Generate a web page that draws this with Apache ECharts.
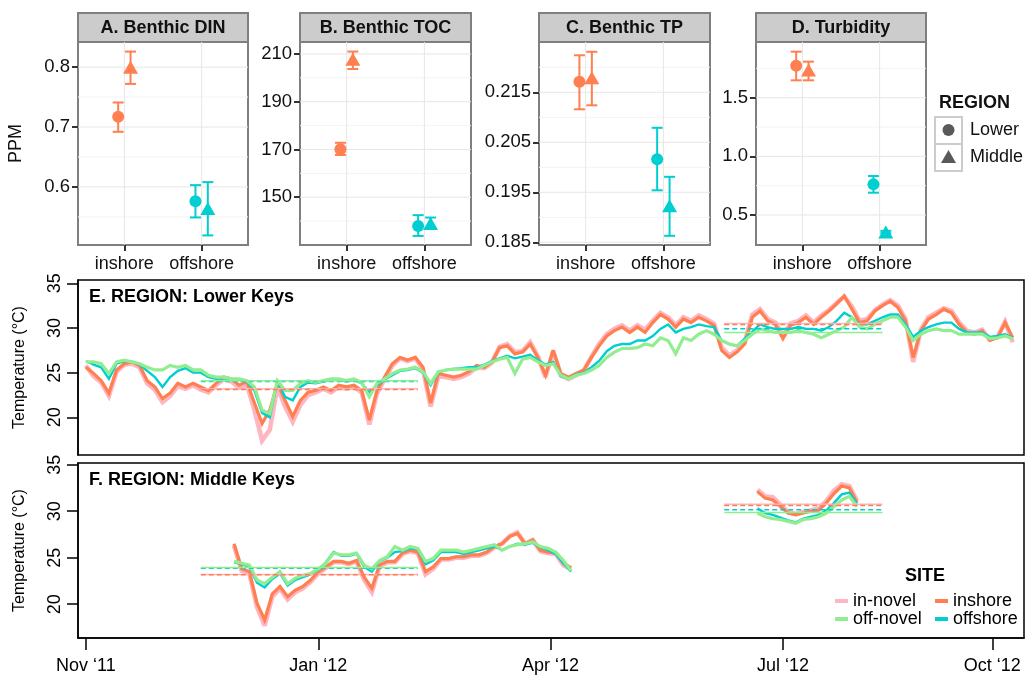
<!DOCTYPE html>
<html><head><meta charset="utf-8">
<script src="https://cdn.jsdelivr.net/npm/echarts@6/dist/echarts.min.js"></script>
<style>html,body{margin:0;padding:0;background:#fff}#c{width:1029px;height:677px}</style>
</head><body><div id="c"></div>
<script>
// ================= DATA =================
const categories = ['inshore', 'offshore'];
const regions = ['Lower', 'Middle'];
const panelTitles = ['A. Benthic DIN', 'B. Benthic TOC', 'C. Benthic TP', 'D. Turbidity'];

// mean / low / high, per category (inshore, offshore)
const dinLowerMean = [0.717, 0.576], dinLowerLo = [0.692, 0.549], dinLowerHi = [0.741, 0.603];
const dinMiddleMean = [0.800, 0.564], dinMiddleLo = [0.772, 0.519], dinMiddleHi = [0.826, 0.608];
const tocLowerMean = [170.1, 138.0], tocLowerLo = [167.7, 133.8], tocLowerHi = [172.8, 142.5];
const tocMiddleMean = [207.8, 139.0], tocMiddleLo = [203.7, 136.8], tocMiddleHi = [211.0, 141.5];
const tpLowerMean = [0.2171, 0.2016], tpLowerLo = [0.2116, 0.1954], tpLowerHi = [0.2224, 0.2079];
const tpMiddleMean = [0.2179, 0.1923], tpMiddleLo = [0.2124, 0.1863], tpMiddleHi = [0.2231, 0.1981];
const turbLowerMean = [1.772, 0.761], turbLowerLo = [1.648, 0.690], turbLowerHi = [1.892, 0.832];
const turbMiddleMean = [1.736, 0.355], turbMiddleLo = [1.648, 0.345], turbMiddleHi = [1.807, 0.365];

const dinTicks = [0.6, 0.7, 0.8], dinMinor = [0.55, 0.65, 0.75];
const tocTicks = [150, 170, 190, 210], tocMinor = [140, 160, 180, 200];
const tpTicks = [0.185, 0.195, 0.205, 0.215], tpMinor = [0.19, 0.2, 0.21, 0.22];
const turbTicks = [0.5, 1.0, 1.5], turbMinor = [0.75, 1.25, 1.75];

// Temperature time series: days since 1 Nov 2011 (axis units), sampled every 3 days
const STEP = 3;
const E_START = 0;
const E_IN_NOVEL = [25.8,24.6,23.9,22.4,25.1,25.9,26.0,25.6,23.8,23.1,
21.7,22.4,23.5,23.2,23.6,23.1,22.8,23.6,24.3,24.0,
23.3,23.7,20.8,17.4,18.6,23.4,21.2,19.5,21.4,22.5,
22.8,23.2,22.8,23.4,23.2,23.4,22.8,19.2,22.7,24.3,
25.8,26.6,26.3,26.6,25.4,21.2,24.6,24.5,24.3,24.5,
24.9,25.6,25.5,26.1,27.9,28.2,27.3,27.4,28.4,26.8,
24.5,27.4,24.7,24.3,24.7,25.2,26.8,28.2,29.3,29.9,
30.3,29.7,30.3,29.8,30.8,31.7,31.2,30.3,31.2,30.8,
31.4,31.0,30.5,27.8,26.9,27.5,28.4,31.5,32.1,31.0,
30.6,29.1,30.5,30.8,31.4,30.6,31.4,32.0,32.8,33.5,
32.4,30.8,31.0,32.0,32.6,33.1,32.5,31.0,26.2,29.8,
31.2,31.7,32.2,31.9,30.6,29.7,29.5,29.8,28.7,29.0,
30.7,28.4];
const E_INSHORE = [25.6,24.9,24.1,22.7,25.3,26.0,26.2,25.8,24.1,23.4,
22.1,22.7,23.8,23.4,23.8,23.4,23.0,23.8,24.5,24.3,
23.6,24.0,21.6,19.3,20.8,23.8,21.9,20.1,21.9,22.8,
23.0,23.4,23.0,23.6,23.4,23.6,23.0,19.7,23.0,24.5,
26.0,26.7,26.4,26.7,25.6,21.6,24.9,24.7,24.5,24.7,
25.1,25.8,25.6,26.2,27.8,28.0,27.1,27.3,28.2,26.7,
24.7,27.5,24.9,24.5,24.9,25.3,26.7,28.0,29.1,29.7,
30.1,29.5,30.1,29.5,30.6,31.5,31.0,30.1,31.0,30.6,
31.2,30.8,30.3,27.5,26.7,27.3,28.2,31.2,31.9,30.8,
30.4,28.8,30.3,30.6,31.2,30.4,31.2,31.9,32.7,33.6,
32.1,30.6,30.8,31.9,32.5,33.0,32.3,30.8,26.7,29.7,
31.0,31.5,32.1,31.7,30.4,29.5,29.3,29.7,28.6,28.9,
30.6,28.9];
const E_OFFSHORE = [26.3,25.9,25.6,24.3,26.0,26.3,26.2,25.9,25.2,24.5,
23.4,24.5,25.2,25.5,25.0,25.0,24.5,24.3,24.4,24.2,
24.2,24.0,23.0,20.5,20.0,24.0,22.3,21.9,23.4,23.9,
23.8,24.0,24.2,24.2,24.0,24.2,23.8,22.8,23.6,24.2,
24.7,25.2,25.3,25.5,25.0,23.6,25.0,25.3,25.4,25.5,
25.6,25.6,25.9,26.3,26.6,26.9,26.6,26.8,27.0,26.4,
25.9,26.2,24.6,24.3,24.8,25.0,25.6,26.3,27.4,28.0,
28.2,28.2,28.6,28.6,29.1,29.9,30.4,29.5,29.9,30.1,
30.4,30.2,30.1,28.6,28.2,28.0,28.8,29.6,30.4,30.1,
29.9,29.9,29.9,30.1,29.9,29.9,29.7,30.1,30.8,31.7,
31.2,30.4,30.4,30.8,31.2,31.5,31.5,30.4,29.0,29.7,
30.1,30.4,30.6,30.6,29.9,29.5,29.5,29.5,29.0,29.1,
29.3,28.9];
const E_OFF_NOVEL = [26.2,26.2,26.0,24.9,26.2,26.4,26.2,26.0,25.6,25.3,
25.3,25.8,25.6,25.8,25.3,25.3,24.7,24.5,24.5,24.3,
24.3,24.1,23.4,20.8,20.4,24.1,23.0,23.0,23.8,24.1,
23.9,24.1,24.3,24.3,24.1,24.3,23.9,22.3,23.8,24.3,
24.9,25.3,25.4,25.6,25.1,23.8,25.1,25.3,25.4,25.4,
25.4,25.4,25.8,26.2,26.5,26.7,24.9,26.5,26.7,26.2,
25.8,26.0,24.7,24.3,24.7,24.9,25.3,25.8,26.7,27.3,
27.7,27.7,27.8,28.2,28.0,28.9,28.6,27.1,28.9,28.6,
29.3,29.7,29.3,28.6,28.2,28.0,28.6,29.3,29.9,29.7,
29.5,29.5,29.5,29.7,29.5,29.3,28.9,29.3,29.7,30.1,
31.2,30.1,29.9,30.4,30.8,31.2,31.2,30.1,28.6,29.3,
29.7,29.9,29.7,29.7,29.3,29.3,29.3,29.3,28.8,28.9,
29.1,28.8];

const F1_START = 58;
const F1_IN_NOVEL = [26.3,23.6,23.3,19.7,17.7,20.8,21.7,20.5,21.3,21.7,
22.4,23.3,23.9,24.5,24.5,24.3,24.6,22.6,21.3,24.1,
24.5,24.5,25.4,25.7,25.5,23.2,23.8,24.8,24.8,25.0,
25.0,25.2,25.2,25.5,26.1,26.5,27.3,27.7,26.5,26.9,
25.7,25.5,25.4,24.2,23.8];
const F1_INSHORE = [26.5,23.8,23.5,20.1,18.3,21.1,21.9,20.8,21.5,21.9,
22.6,23.5,24.0,24.6,24.6,24.4,24.7,22.9,21.7,24.2,
24.6,24.6,25.5,25.8,25.6,23.5,24.0,24.9,24.9,25.1,
25.1,25.3,25.3,25.6,26.2,26.5,27.3,27.6,26.5,26.9,
25.8,25.6,25.5,24.4,23.9];
const F1_OFFSHORE = [24.5,24.3,24.0,22.3,21.8,22.7,23.3,22.0,22.6,22.9,
23.2,23.7,24.5,25.6,25.2,25.2,25.4,24.0,23.5,24.6,
25.0,25.6,25.7,26.0,25.9,24.3,24.7,25.6,25.6,25.6,
25.4,25.6,25.8,26.0,26.2,25.8,26.2,26.5,26.4,26.6,
26.1,25.8,25.4,24.4,23.5];
const F1_OFF_NOVEL = [24.6,24.4,24.2,22.6,22.2,22.9,23.5,22.2,22.8,23.1,
23.3,23.8,24.4,25.5,25.3,25.3,25.5,24.2,23.8,24.7,
25.1,26.2,25.8,26.2,26.0,24.6,24.9,25.8,25.8,25.8,
25.6,25.8,26.0,26.2,26.4,25.8,26.2,26.4,26.5,26.7,
26.2,26.0,25.6,24.7,23.6];

const F2_START = 263;
const F2_IN_NOVEL = [32.3,31.6,31.5,30.7,29.9,29.7,29.9,30.1,30.3,31.1,32.2,32.9,32.7,31.1];
const F2_INSHORE = [32.1,31.4,31.2,30.5,29.8,29.6,29.8,30.0,30.1,30.9,31.9,32.7,32.5,30.9];
const F2_OFFSHORE = [30.3,29.8,29.6,29.3,29.0,28.8,29.2,29.4,29.6,30.1,30.9,31.8,32.0,30.8];
const F2_OFF_NOVEL = [29.8,29.4,29.2,29.1,28.9,28.7,29.1,29.2,29.4,29.8,30.5,31.2,31.6,30.5];

// period means (two sampling periods)
const MEAN_PERIODS = [[45, 130], [250, 312]];
const E_MEAN_IN_NOVEL = [23.2, 30.5], E_MEAN_INSHORE = [23.1, 30.4];
const E_MEAN_OFF_NOVEL = [24.1, 29.5], E_MEAN_OFFSHORE = [24.0, 29.9];
const F_MEAN_IN_NOVEL = [23.2, 30.75], F_MEAN_INSHORE = [23.15, 30.6];
const F_MEAN_OFF_NOVEL = [23.95, 29.85], F_MEAN_OFFSHORE = [23.85, 30.15];

const TICK_DAYS = [0, 91, 182, 273, 355];
const TICK_LABELS = ['Nov \u201811', 'Jan \u201812', 'Apr \u201812', 'Jul \u201812', 'Oct \u201812'];
const TEMP_TICKS = [20, 25, 30, 35];
const SITES = ['in-novel', 'inshore', 'offshore', 'off-novel'];

// ================= STYLE / LAYOUT =================
const FONT = 'Liberation Sans, Arial, Helvetica, sans-serif';
const SITE_COLORS = {'in-novel': '#FFB6C1', 'inshore': '#FF7F50', 'off-novel': '#90EE90', 'offshore': '#00CED1'};
const SITE_WIDTHS = {'in-novel': 4.6, 'inshore': 3.2, 'off-novel': 3.2, 'offshore': 2.4};
const CAT_COLORS = ['#FF7F50', '#00CED1'];
const DODGE = 0.08;
const TOP_Y = 42, TOP_H = 203;

const topPanels = [
  {left: 78, width: 170, ymin: 0.503, ymax: 0.842, ticks: dinTicks, minor: dinMinor, dec: 1,
   lower: [dinLowerMean, dinLowerLo, dinLowerHi], middle: [dinMiddleMean, dinMiddleLo, dinMiddleHi]},
  {left: 300, width: 171, ymin: 130, ymax: 215, ticks: tocTicks, minor: tocMinor, dec: 0,
   lower: [tocLowerMean, tocLowerLo, tocLowerHi], middle: [tocMiddleMean, tocMiddleLo, tocMiddleHi]},
  {left: 539, width: 171, ymin: 0.18446, ymax: 0.22506, ticks: tpTicks, minor: tpMinor, dec: 3,
   lower: [tpLowerMean, tpLowerLo, tpLowerHi], middle: [tpMiddleMean, tpMiddleLo, tpMiddleHi]},
  {left: 756, width: 170, ymin: 0.2442, ymax: 1.9745, ticks: turbTicks, minor: turbMinor, dec: 1,
   lower: [turbLowerMean, turbLowerLo, turbLowerHi], middle: [turbMiddleMean, turbMiddleLo, turbMiddleHi]}
];

const grids = [], xAxes = [], yAxes = [], series = [], graphics = [];

topPanels.forEach((p, i) => {
  grids.push({left: p.left, top: TOP_Y, width: p.width, height: TOP_H, show: true,
    borderColor: '#7f7f7f', borderWidth: 2, backgroundColor: '#fff'});
  xAxes.push({gridIndex: i, type: 'value', min: 0.4, max: 2.6,
    axisLine: {show: false}, splitLine: {show: false},
    axisTick: {show: true, customValues: [1, 2], length: 6, lineStyle: {color: '#333', width: 2}},
    axisLabel: {customValues: [1, 2], formatter: v => categories[Math.round(v) - 1],
      fontFamily: FONT, fontSize: 18, color: '#111', margin: 10}});
  yAxes.push({gridIndex: i, type: 'value', min: p.ymin, max: p.ymax,
    axisLine: {show: false}, splitLine: {show: false},
    axisTick: {show: true, customValues: p.ticks, length: 6, lineStyle: {color: '#333', width: 2}},
    axisLabel: {customValues: p.ticks, formatter: v => v.toFixed(p.dec),
      fontFamily: FONT, fontSize: 18.5, color: '#111', margin: 8},
    name: i === 0 ? 'PPM' : '', nameLocation: 'middle', nameGap: 53, nameRotate: 90,
    nameTextStyle: {fontFamily: FONT, fontSize: 18, color: '#111'}});
  // background grid lines
  const gl = [];
  p.ticks.forEach(v => gl.push([v, 0]));
  p.minor.forEach(v => gl.push([v, 1]));
  [1, 2].forEach(v => gl.push([v, 2]));
  series.push({type: 'custom', xAxisIndex: i, yAxisIndex: i, z: 0, silent: true, data: gl,
    renderItem: (params, api) => {
      const v = api.value(0), k = api.value(1);
      let a, b;
      if (k === 2) { a = api.coord([v, p.ymin]); b = api.coord([v, p.ymax]); }
      else { a = api.coord([0.4, v]); b = api.coord([2.6, v]); }
      return {type: 'line', shape: {x1: a[0], y1: a[1], x2: b[0], y2: b[1]},
        style: {stroke: k === 1 ? '#f3f3f3' : '#e6e6e6', lineWidth: 1}};
    }});
  // error bars + points
  [['Lower', p.lower, -DODGE, 'circle', 12], ['Middle', p.middle, DODGE, 'triangle', [15, 13]]].forEach(r => {
    const [name, arr, off, sym, size] = r;
    const eb = categories.map((c, j) => [j + 1 + off, arr[1][j], arr[2][j], j]);
    series.push({type: 'custom', name: name + ' err', xAxisIndex: i, yAxisIndex: i, z: 2, silent: true, data: eb,
      renderItem: (params, api) => {
        const x = api.value(0), lo = api.value(1), hi = api.value(2), j = api.value(3);
        const a = api.coord([x, lo]), b = api.coord([x, hi]);
        const col = CAT_COLORS[j], w = 5.5;
        const st = {stroke: col, lineWidth: 2};
        return {type: 'group', children: [
          {type: 'line', shape: {x1: a[0], y1: a[1], x2: b[0], y2: b[1]}, style: st},
          {type: 'line', shape: {x1: a[0] - w, y1: a[1], x2: a[0] + w, y2: a[1]}, style: st},
          {type: 'line', shape: {x1: b[0] - w, y1: b[1], x2: b[0] + w, y2: b[1]}, style: st}]};
      }});
    series.push({type: 'scatter', name: name, xAxisIndex: i, yAxisIndex: i, z: 3, symbol: sym, symbolSize: size,
      data: categories.map((c, j) => ({value: [j + 1 + off, arr[0][j]], itemStyle: {color: CAT_COLORS[j], opacity: 1}}))});
  });
  // strip header
  graphics.push({type: 'rect', shape: {x: p.left, y: 13, width: p.width, height: 29},
    style: {fill: '#cccccc', stroke: '#7f7f7f', lineWidth: 2}});
  graphics.push({type: 'text', style: {text: panelTitles[i], x: p.left + p.width / 2, y: 28,
    textAlign: 'center', textVerticalAlign: 'middle', font: 'bold 18px ' + FONT, fill: '#111'}});
});

// ---- time series panels ----
const X_MIN = -3.1, X_MAX = 367.4;
const lowPanels = [
  {top: 280, height: 175, ymin: 15.78, ymax: 35.37, title: 'E. REGION: Lower Keys',
   segs: [[E_START, {'in-novel': E_IN_NOVEL, 'inshore': E_INSHORE, 'offshore': E_OFFSHORE, 'off-novel': E_OFF_NOVEL}]],
   means: {'in-novel': E_MEAN_IN_NOVEL, 'inshore': E_MEAN_INSHORE, 'offshore': E_MEAN_OFFSHORE, 'off-novel': E_MEAN_OFF_NOVEL}},
  {top: 463, height: 175, ymin: 16.36, ymax: 35.18, title: 'F. REGION: Middle Keys',
   segs: [[F1_START, {'in-novel': F1_IN_NOVEL, 'inshore': F1_INSHORE, 'offshore': F1_OFFSHORE, 'off-novel': F1_OFF_NOVEL}],
          [F2_START, {'in-novel': F2_IN_NOVEL, 'inshore': F2_INSHORE, 'offshore': F2_OFFSHORE, 'off-novel': F2_OFF_NOVEL}]],
   means: {'in-novel': F_MEAN_IN_NOVEL, 'inshore': F_MEAN_INSHORE, 'offshore': F_MEAN_OFFSHORE, 'off-novel': F_MEAN_OFF_NOVEL}}
];

lowPanels.forEach((p, k) => {
  const gi = 4 + k;
  const isBottom = k === 1;
  grids.push({left: 78, top: p.top, width: 946, height: p.height, show: true,
    borderColor: '#000', borderWidth: 1.5, backgroundColor: '#fff'});
  xAxes.push({gridIndex: gi, type: 'value', min: X_MIN, max: X_MAX, show: isBottom,
    axisLine: {show: true, onZero: false, lineStyle: {color: '#000', width: 1.5}}, splitLine: {show: false},
    axisTick: {show: true, customValues: TICK_DAYS, length: 12, lineStyle: {color: '#000', width: 1.5}},
    axisLabel: {customValues: TICK_DAYS, formatter: v => TICK_LABELS[TICK_DAYS.indexOf(v)],
      fontFamily: FONT, fontSize: 18, color: '#000', margin: 19}});
  yAxes.push({gridIndex: gi, type: 'value', min: p.ymin, max: p.ymax,
    axisLine: {show: true, onZero: false, lineStyle: {color: '#000', width: 1.5}}, splitLine: {show: false},
    axisTick: {show: true, customValues: TEMP_TICKS, length: 11, lineStyle: {color: '#000', width: 1.5}},
    axisLabel: {customValues: TEMP_TICKS, rotate: 90, fontFamily: FONT, fontSize: 18, color: '#000', margin: 14},
    name: 'Temperature (\u00B0C)', nameLocation: 'middle', nameGap: 50, nameRotate: 90,
    nameTextStyle: {fontFamily: FONT, fontSize: 16, color: '#000'}});
  SITES.forEach((s, si) => {
    p.segs.forEach(seg => {
      const [start, obj] = seg;
      series.push({type: 'line', name: s, xAxisIndex: gi, yAxisIndex: gi, z: 2 + si * 0.1,
        showSymbol: false, symbol: 'none', silent: true, color: SITE_COLORS[s],
        lineStyle: {color: SITE_COLORS[s], width: SITE_WIDTHS[s], join: 'miter', miterLimit: 3},
        itemStyle: {color: SITE_COLORS[s]},
        data: obj[s].map((v, i) => [start + i * STEP, v])});
    });
  });
  SITES.forEach(s => {
    const novel = s.indexOf('novel') >= 0;
    MEAN_PERIODS.forEach((per, pi) => {
      series.push({type: 'line', name: s + ' mean', xAxisIndex: gi, yAxisIndex: gi, z: 4,
        showSymbol: false, symbol: 'none', silent: true,
        lineStyle: {color: SITE_COLORS[s], width: 1.5, type: novel ? 'solid' : [5, 3]},
        data: [[per[0], p.means[s][pi]], [per[1], p.means[s][pi]]]});
    });
  });
  graphics.push({type: 'text', z: 10, style: {text: p.title, x: 89, y: p.top + 17,
    textAlign: 'left', textVerticalAlign: 'middle', font: 'bold 18px ' + FONT, fill: '#000'}});
});

// REGION legend (shape key)
graphics.push({type: 'text', style: {text: 'REGION', x: 939, y: 103, textAlign: 'left',
  textVerticalAlign: 'middle', font: 'bold 18px ' + FONT, fill: '#111'}});
graphics.push({type: 'rect', shape: {x: 935, y: 117, width: 27, height: 27}, style: {fill: '#fff', stroke: '#cccccc', lineWidth: 2}});
graphics.push({type: 'rect', shape: {x: 935, y: 144, width: 27, height: 27}, style: {fill: '#fff', stroke: '#cccccc', lineWidth: 2}});
graphics.push({type: 'circle', shape: {cx: 948.5, cy: 130, r: 6}, style: {fill: '#595959'}});
graphics.push({type: 'polygon', shape: {points: [[941, 163], [956, 163], [948.5, 150]]}, style: {fill: '#595959'}});
graphics.push({type: 'text', style: {text: regions[0], x: 970, y: 130, textAlign: 'left', textVerticalAlign: 'middle', font: '18px ' + FONT, fill: '#111'}});
graphics.push({type: 'text', style: {text: regions[1], x: 970, y: 157, textAlign: 'left', textVerticalAlign: 'middle', font: '18px ' + FONT, fill: '#111'}});
// SITE legend title
graphics.push({type: 'text', z: 10, style: {text: 'SITE', x: 905, y: 576, textAlign: 'left', textVerticalAlign: 'middle', font: 'bold 18px ' + FONT, fill: '#000'}});

const legendBase = {orient: 'vertical', padding: 0, itemGap: 0, itemWidth: 13, itemHeight: 4, icon: 'rect',
  selectedMode: false, textStyle: {fontFamily: FONT, fontSize: 18, color: '#000', lineHeight: 17}};

const option = {
  animation: false,
  backgroundColor: '#fff',
  grid: grids, xAxis: xAxes, yAxis: yAxes, series: series,
  legend: [
    Object.assign({}, legendBase, {left: 835, top: 592, data: ['in-novel', 'off-novel']}),
    Object.assign({}, legendBase, {left: 935, top: 592, data: ['inshore', 'offshore']})
  ],
  graphic: graphics
};
echarts.init(document.getElementById('c')).setOption(option);
</script></body></html>
